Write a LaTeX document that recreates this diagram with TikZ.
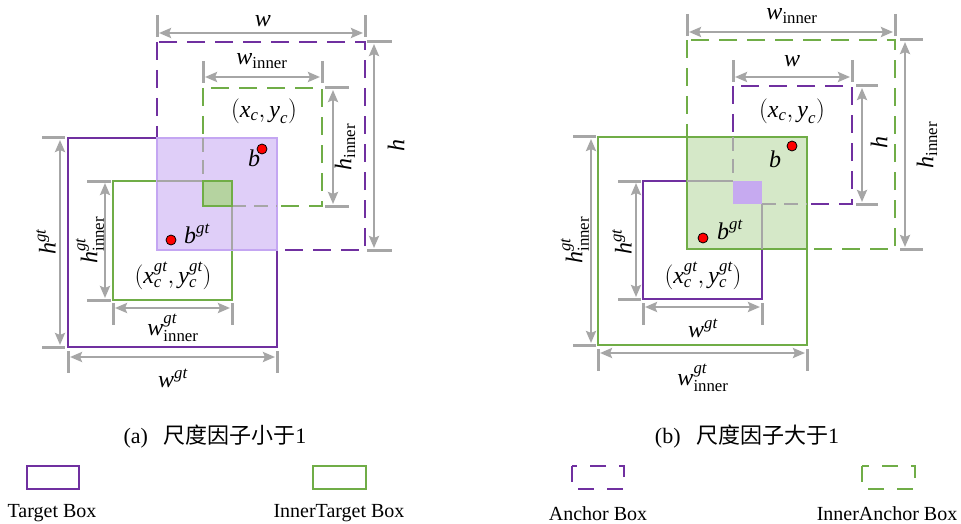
\documentclass[tikz,border=0pt]{standalone}
\usepackage{amsmath}
\usepackage{fontspec}
\setmainfont{Liberation Serif}
\newfontfamily\cjk{Noto Sans CJK SC}
\usetikzlibrary{arrows.meta}
\definecolor{pur}{HTML}{7030A0}
\definecolor{grn}{HTML}{70AD47}
\definecolor{gry}{HTML}{A6A6A6}
\definecolor{pfill}{HTML}{DFCEF8}
\definecolor{pedge}{HTML}{C4A6F2}
\definecolor{gfill}{HTML}{D5E8C8}
\definecolor{gfilltwo}{HTML}{B5D3A0}
\definecolor{pfilltwo}{HTML}{C6AAF0}
\newcommand\mi[1]{\text{\itshape #1}}
\tikzset{
 solidbox/.style={line width=2.3pt},
 dashbox/.style={line width=2.3pt, dash pattern=on 18pt off 10pt},
 tickline/.style={gry, line width=3pt},
 dimline/.style={gry, line width=2.8pt, {Stealth[length=12pt,width=10pt,inset=2pt]}-{Stealth[length=12pt,width=10pt,inset=2pt]}, shorten <=2pt, shorten >=2pt},
 lab/.style={font=\fontsize{24}{24}\selectfont, inner sep=0pt},
 dot/.style={circle, fill=red, draw=black, line width=0.8pt, minimum size=10pt, inner sep=0pt},
 graysolid/.style={gry, line width=2.3pt},
 graydash/.style={gry, line width=2.3pt, dash pattern=on 14pt off 8pt},
 captext/.style={font=\fontsize{22}{22}\selectfont, inner sep=0pt},
 legtext/.style={font=\fontsize{20}{20}\selectfont, inner sep=0pt},
}
\begin{document}
\begin{tikzpicture}[x=1pt,y=-1pt]
\useasboundingbox (0,0) rectangle (961,524);
% ================= LEFT PANEL =================
\draw[pur, solidbox] (68,138) rectangle (277,347);
\draw[pur, dashbox] (157,42) rectangle (365,250);
\draw[grn, solidbox] (113,181) rectangle (232,300);
\draw[grn, dashbox] (203,88) rectangle (322,206);
\draw[pedge, fill=pfill, line width=2pt] (157,138) rectangle (277,250);
\draw[graysolid] (157,181) -- (203,181);
\draw[graydash] (203,138) -- (203,181);
\draw[graysolid] (232,206) -- (232,250);
\draw[graydash] (232,206) -- (277,206);
\draw[grn, fill=gfilltwo, line width=2.3pt] (203,181) rectangle (232,206);
% dimensions left
\draw[tickline] (157,15) -- (157,37);
\draw[tickline] (365,15) -- (365,37);
\draw[dimline] (157,33) -- (365,33);
\node[lab] (lw) at (263,21) {$\mi{w}$};
\draw[tickline] (203,61) -- (203,83);
\draw[tickline] (322,61) -- (322,83);
\draw[dimline] (203,77) -- (322,77);
\node[lab] (lwi) at (262,61) {$\mi{w}_{\text{inner}}$};
\draw[tickline] (367,42) -- (392,42);
\draw[tickline] (367,250) -- (392,250);
\draw[dimline] (374,42) -- (374,250);
\node[lab, rotate=90] (lh) at (396,145) {$\mi{h}$};
\draw[tickline] (325,88) -- (349,88);
\draw[tickline] (325,206) -- (349,206);
\draw[dimline] (333,88) -- (333,206);
\node[lab, rotate=90] (lhi) at (345,147) {$\mi{h}_{\text{inner}}$};
\draw[tickline] (42,138) -- (65,138);
\draw[tickline] (42,347) -- (65,347);
\draw[dimline] (60,138) -- (60,347);
\node[lab, rotate=90] (lhgt) at (46,242) {$\mi{h}^{\mi{gt}}$};
\draw[tickline] (87,181) -- (111,181);
\draw[tickline] (87,300) -- (111,300);
\draw[dimline] (105,181) -- (105,300);
\node[lab, rotate=90] (lhigt) at (90,240) {$\mi{h}^{\mi{gt}}_{\text{inner}}$};
\draw[tickline] (113,303) -- (113,325);
\draw[tickline] (232,303) -- (232,325);
\draw[dimline] (113,308) -- (232,308);
\node[lab] (lwigt) at (173,328) {$\mi{w}^{\mi{gt}}_{\text{inner}}$};
\draw[tickline] (68,351) -- (68,373);
\draw[tickline] (277,351) -- (277,373);
\draw[dimline] (68,357) -- (277,357);
\node[lab] (lwgt) at (173,378) {$\mi{w}^{\mi{gt}}$};
% points left
\node[dot] (lb) at (262,149) {};
\node[lab] (lbl) at (254,158) {$\mi{b}$};
\node[dot] (lbgt) at (171,240) {};
\node[lab] (lbgtl) at (197,234) {$\mi{b}^{\mi{gt}}$};
\node[lab] (lc) at (264,111) {$(\mi{x}_{\mi{c}}, \mi{y}_{\mi{c}})$};
\node[lab] (lcgt) at (173,276) {$(\mi{x}^{\mi{gt}}_{\mi{c}}, \mi{y}^{\mi{gt}}_{\mi{c}})$};
% ================= RIGHT PANEL =================
\draw[grn, dashbox] (687,40) rectangle (895,249);
\draw[pur, dashbox] (733,86) rectangle (852,204);
\draw[grn, solidbox] (598,137) rectangle (807,345);
\draw[pur, solidbox] (643,181) rectangle (762,299);
\draw[grn, fill=gfill, line width=2.3pt] (687,137) rectangle (807,249);
\draw[graysolid] (687,181) -- (733,181);
\draw[graydash] (733,137) -- (733,181);
\draw[graysolid] (762,204) -- (762,249);
\draw[graydash] (762,204) -- (807,204);
\fill[pfilltwo] (733,181) rectangle (762,204);
% dimensions right
\draw[tickline] (687,14) -- (687,36);
\draw[tickline] (895,14) -- (895,36);
\draw[dimline] (687,32) -- (895,32);
\node[lab] (rwi) at (792,16) {$\mi{w}_{\text{inner}}$};
\draw[tickline] (733,60) -- (733,82);
\draw[tickline] (852,60) -- (852,82);
\draw[dimline] (733,77) -- (852,77);
\node[lab] (rw) at (792,61) {$\mi{w}$};
\draw[tickline] (900,40) -- (923,40);
\draw[tickline] (900,249) -- (923,249);
\draw[dimline] (905,40) -- (905,249);
\node[lab, rotate=90] (rhi) at (927,145) {$\mi{h}_{\text{inner}}$};
\draw[tickline] (856,86) -- (878,86);
\draw[tickline] (856,204) -- (878,204);
\draw[dimline] (862,86) -- (862,204);
\node[lab, rotate=90] (rh) at (879,143) {$\mi{h}$};
\draw[tickline] (573,137) -- (596,137);
\draw[tickline] (573,345) -- (596,345);
\draw[dimline] (591,137) -- (591,345);
\node[lab, rotate=90] (rhigt) at (575,240) {$\mi{h}^{\mi{gt}}_{\text{inner}}$};
\draw[tickline] (618,181) -- (641,181);
\draw[tickline] (618,299) -- (641,299);
\draw[dimline] (636,181) -- (636,299);
\node[lab, rotate=90] (rhgt) at (622,242) {$\mi{h}^{\mi{gt}}$};
\draw[tickline] (643,303) -- (643,325);
\draw[tickline] (762,303) -- (762,325);
\draw[dimline] (643,307) -- (762,307);
\node[lab] (rwgt) at (703,328) {$\mi{w}^{\mi{gt}}$};
\draw[tickline] (598,349) -- (598,371);
\draw[tickline] (807,349) -- (807,371);
\draw[dimline] (598,353) -- (807,353);
\node[lab] (rwigt) at (703,378) {$\mi{w}^{\mi{gt}}_{\text{inner}}$};
% points right
\node[dot] (rb) at (792,146) {};
\node[lab] (rbl) at (775,159) {$\mi{b}$};
\node[dot] (rbgt) at (703,238) {};
\node[lab] (rbgtl) at (730,230) {$\mi{b}^{\mi{gt}}$};
\node[lab] (rc) at (792,111) {$(\mi{x}_{\mi{c}}, \mi{y}_{\mi{c}})$};
\node[lab] (rcgt) at (703,276) {$(\mi{x}^{\mi{gt}}_{\mi{c}}, \mi{y}^{\mi{gt}}_{\mi{c}})$};
% ================= CAPTIONS =================
\node[captext] (capa) at (215,437) {(a)\hspace{0.7em}{\cjk 尺度因子小于}1};
\node[captext] (capb) at (747,437) {(b)\hspace{0.7em}{\cjk 尺度因子大于}1};
% ================= LEGEND =================
\draw[pur, line width=2.3pt] (27,466) rectangle (79,489);
\node[legtext] (lt1) at (52,513) {Target Box};
\draw[grn, line width=2.3pt] (313,466) rectangle (366,489);
\node[legtext] (lt2) at (339,513) {InnerTarget Box};
\draw[pur, line width=2.3pt, dash pattern=on 16pt off 13pt] (572,466) rectangle (624,489);
\node[legtext] (lt3) at (598,514) {Anchor Box};
\draw[grn, line width=2.3pt, dash pattern=on 16pt off 13pt] (862,466) rectangle (915,489);
\node[legtext] (lt4) at (887,514) {InnerAnchor Box};
\end{tikzpicture}
\end{document}
